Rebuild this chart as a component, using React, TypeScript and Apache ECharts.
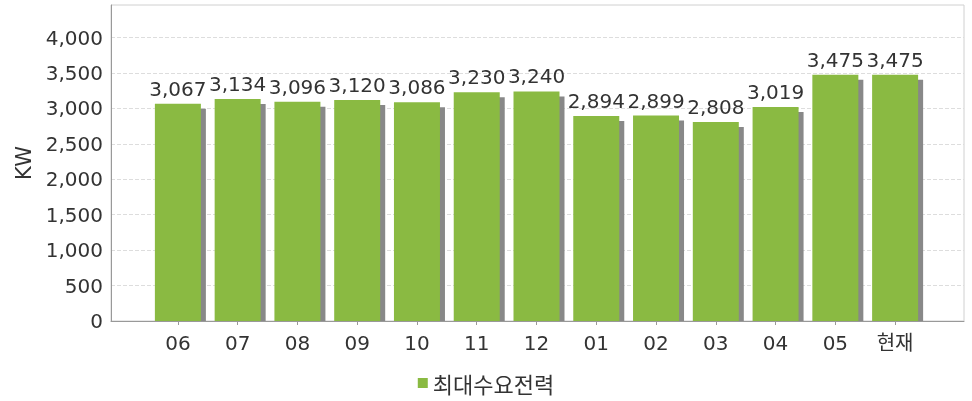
import React, { useEffect, useRef } from "react";
import * as echarts from "echarts";

const categories = ["06", "07", "08", "09", "10", "11", "12", "01", "02", "03", "04", "05", "현재"];
const peakDemand = [3067, 3134, 3096, 3120, 3086, 3230, 3240, 2894, 2899, 2808, 3019, 3475, 3475];
const seriesName = "최대수요전력";
const yAxisName = "KW";

const GREEN = "#8aba42";
const SHADOW = "#888888";
const TEXT = "#333333";
const FONT = "DejaVu Sans, Noto Sans CJK KR, sans-serif";
const Y_MAX = 4460;

export default function App() {
  const ref = useRef<HTMLDivElement>(null);
  useEffect(() => {
    if (!ref.current) return;
    const chart = echarts.init(ref.current, null, { renderer: "svg" });
    const fmt = (v: number) => v.toLocaleString("en-US");
    chart.setOption({
      animation: false,
      textStyle: { fontFamily: FONT },
      grid: [
        { left: 111, right: 8, top: 5, bottom: 80, show: true, borderColor: "#d0d0d0", borderWidth: 1, backgroundColor: "transparent" },
        { left: 148, right: 47, top: 5, bottom: 80 },
      ],
      legend: {
        left: "center",
        top: 370,
        icon: "rect",
        itemWidth: 10,
        itemHeight: 10,
        itemGap: 6,
        padding: 0,
        data: [{ name: seriesName, itemStyle: { color: GREEN } }],
        textStyle: { fontSize: 22, lineHeight: 26, color: TEXT, fontFamily: "Noto Sans CJK KR, sans-serif" },
      },
      xAxis: [
        {
          gridIndex: 0,
          type: "category",
          data: [""],
          axisLine: { show: true, lineStyle: { color: "#999999", width: 1 } },
          axisTick: { show: false },
          axisLabel: { show: false },
          splitLine: { show: false },
        },
        {
          gridIndex: 1,
          type: "category",
          data: categories,
          boundaryGap: true,
          axisLine: { show: false },
          axisTick: { show: true, alignWithLabel: true, length: 4, lineStyle: { color: "#999999" } },
          axisLabel: { color: TEXT, fontSize: 20, margin: 12, fontFamily: FONT, interval: 0 },
          splitLine: { show: false },
        },
      ],
      yAxis: [
        {
          gridIndex: 0,
          type: "value",
          min: 0,
          max: Y_MAX,
          interval: 500,
          name: yAxisName,
          nameLocation: "middle",
          nameGap: 76,
          nameTextStyle: { fontSize: 21, color: TEXT, fontFamily: FONT },
          axisLine: { show: true, lineStyle: { color: "#999999", width: 1 } },
          axisTick: { show: false },
          axisLabel: { color: TEXT, fontSize: 20, margin: 8, fontFamily: FONT, showMaxLabel: false, formatter: fmt },
          splitLine: { show: true, showMaxLine: false, lineStyle: { color: "#dddddd", type: "dashed", width: 1 } },
        },
        {
          gridIndex: 1,
          type: "value",
          min: 0,
          max: Y_MAX,
          show: false,
          splitLine: { show: false },
        },
      ],
      series: [
        {
          name: seriesName,
          type: "custom",
          xAxisIndex: 1,
          yAxisIndex: 1,
          itemStyle: { color: GREEN },
          encode: { x: 0, y: 1 },
          data: peakDemand.map((v, i) => [i, v]),
          renderItem: (params: any, api: any) => {
            const idx = api.value(0);
            const val = api.value(1);
            const top = api.coord([idx, val]);
            const base = api.coord([idx, 0]);
            const w = 46;
            const off = 5;
            const x0 = top[0] - w / 2;
            const h = base[1] - top[1];
            return {
              type: "group",
              children: [
                {
                  type: "rect",
                  shape: { x: x0 + off, y: top[1] + off, width: w, height: Math.max(0, h - off) },
                  style: { fill: SHADOW },
                },
                {
                  type: "rect",
                  shape: { x: x0, y: top[1], width: w, height: h },
                  style: { fill: GREEN },
                },
                {
                  type: "text",
                  x: top[0],
                  y: top[1] - 5,
                  style: {
                    text: fmt(val),
                    fill: TEXT,
                    fontSize: 20,
                    fontFamily: FONT,
                    align: "center",
                    verticalAlign: "bottom",
                  },
                },
              ],
            };
          },
        },
      ],
    });
    return () => chart.dispose();
  }, []);
  return <div ref={ref} style={{ position: "fixed", left: 0, top: 0, width: 972, height: 401 }} />;
}
